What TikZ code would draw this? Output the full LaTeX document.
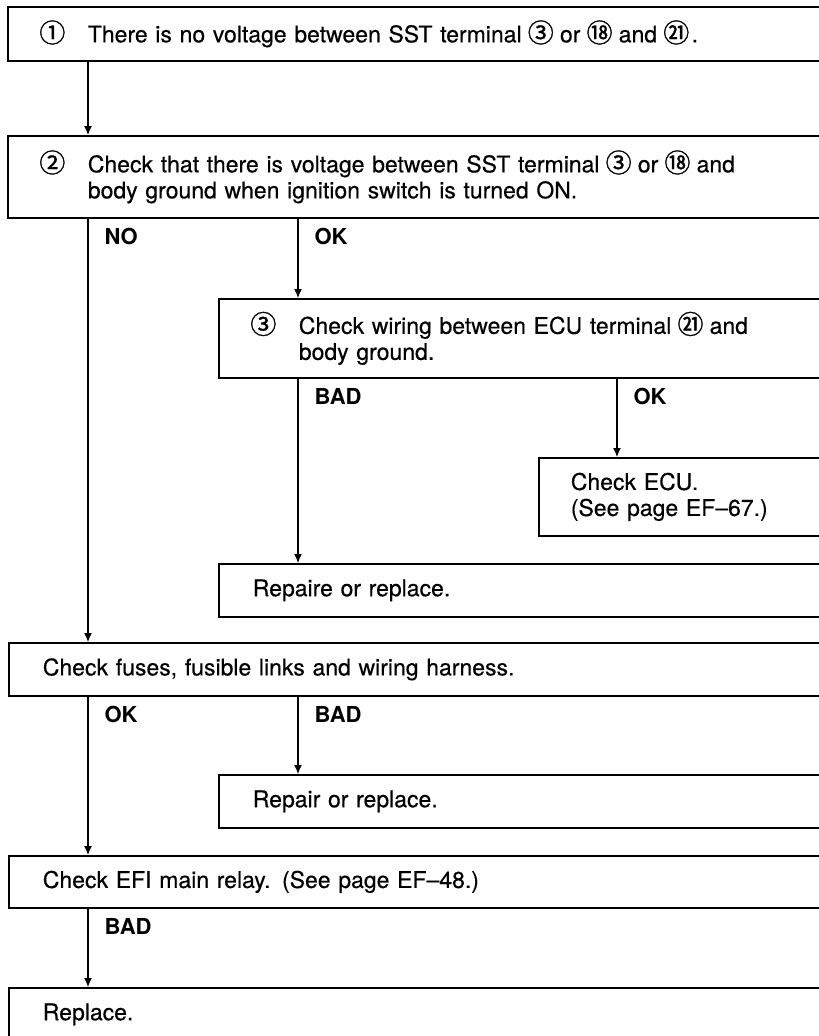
\documentclass[tikz,border=0pt]{standalone}
\usepackage{fontspec}
\setmainfont{TeX Gyre Heros}[UprightFeatures={FakeBold=0.4}]
\newfontfamily\circfont{Noto Sans CJK SC}[FakeBold=1.2]
\usetikzlibrary{arrows.meta,positioning}

\newcommand{\cnum}[1]{\makebox[23pt]{\circfont\fontsize{26}{26}\selectfont #1}}
\newcommand{\circlead}[1]{\leavevmode\llap{\makebox[47pt][l]{\cnum{#1}}}}

\begin{document}
\begin{tikzpicture}[
    x=1pt, y=-1pt,
    font=\fontsize{23}{26}\selectfont,
    stepbox/.style={draw, line width=1.7pt, anchor=north west, inner ysep=0pt, inner xsep=34pt, text width=840pt, align=left},
    numbox/.style={stepbox, inner xsep=80pt},
    lbl/.style={font=\fontsize{22}{24}\selectfont\bfseries, inner sep=0pt, anchor=north west, xshift=16pt, yshift=-9pt},
    arr/.style={-{Latex[length=9pt,width=8pt]}, line width=1.2pt}
]
\path[use as bounding box, clip] (0,0) rectangle (819,1036);

% steps
\node[numbox, minimum height=54pt] (nov) at (7,6) {\circlead{①}There is no voltage between SST terminal \cnum{③} or \cnum{⑱} and \cnum{㉑}\,.};
\node[numbox, minimum height=82pt] (sst) at (7,135) {\circlead{②}Check that there is voltage between SST terminal \cnum{③} or \cnum{⑱} and\\ body ground when ignition switch is turned ON.};
\node[numbox, minimum height=79pt] (wire) at (218,298) {\circlead{③}Check wiring between ECU terminal \cnum{㉑} and\\ body ground.};
\node[stepbox, minimum height=78pt, inner xsep=32pt] (ecu) at (538,457) {Check ECU.\\ (See page EF–67.)};
\node[stepbox, minimum height=53pt] (fixwire) at (218,563) {Repaire or replace.};
\node[stepbox, minimum height=53pt] (fuses) at (8,642) {Check fuses, fusible links and wiring harness.};
\node[stepbox, minimum height=53pt] (fixfuse) at (218,774) {Repair or replace.};
\node[stepbox, minimum height=52pt] (relay) at (8,855) {Check EFI main relay. (See page EF–48.)};
\node[stepbox, minimum height=53pt] (repl) at (8,987) {Replace.};

% connectors
\draw[arr] ([xshift=81pt]nov.south west) -- ([xshift=81pt]sst.north west);
\draw[arr] ([xshift=81pt]sst.south west) -- node[lbl, at start] {NO} ([xshift=80pt]fuses.north west);
\draw[arr] ([xshift=291pt]sst.south west) -- node[lbl, at start] {OK} ([xshift=80pt]wire.north west);
\draw[arr] ([xshift=80pt]wire.south west) -- node[lbl, at start] {BAD} ([xshift=80pt]fixwire.north west);
\draw[arr] ([xshift=399pt]wire.south west) -- node[lbl, at start] {OK} ([xshift=79pt]ecu.north west);
\draw[arr] ([xshift=80pt]fuses.south west) -- node[lbl, at start] {OK} ([xshift=80pt]relay.north west);
\draw[arr] ([xshift=290pt]fuses.south west) -- node[lbl, at start] {BAD} ([xshift=80pt]fixfuse.north west);
\draw[arr] ([xshift=80pt]relay.south west) -- node[lbl, at start] {BAD} ([xshift=80pt]repl.north west);
\end{tikzpicture}
\end{document}
